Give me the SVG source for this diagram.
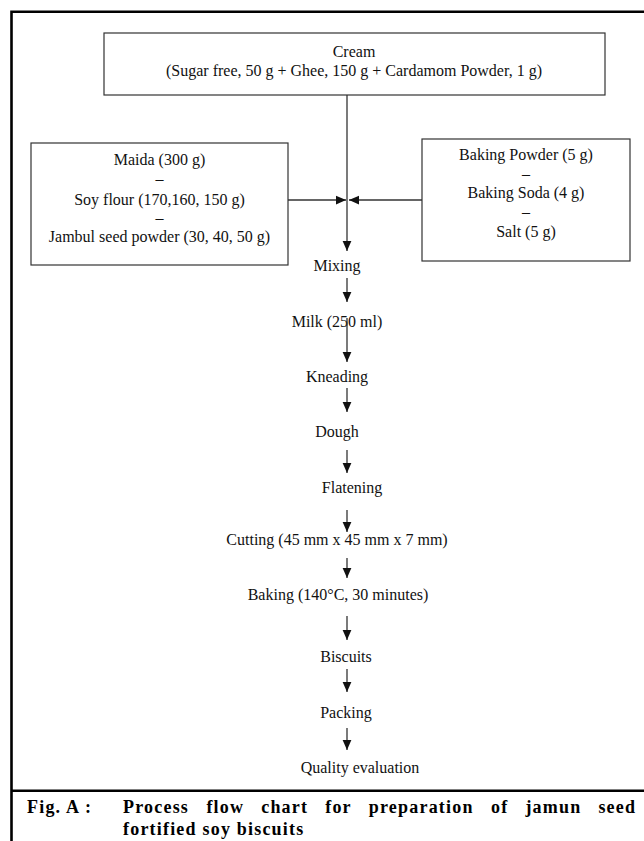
<svg xmlns="http://www.w3.org/2000/svg" width="644" height="841" viewBox="0 0 644 841">
<style>
  .t { font-family: "Liberation Serif", "Times New Roman", serif; font-size: 16px; fill: #111; text-anchor: middle; }
  .box { fill: none; stroke: #333; stroke-width: 1.2; }
  .frame { fill: none; stroke: #000; stroke-width: 2.6; }
  .cap { font-family: "Liberation Serif", "Times New Roman", serif; font-size: 18px; font-weight: bold; fill: #000; letter-spacing: 1.2px; }
  .conn path { fill: none; stroke: #333; stroke-width: 1.3; marker-end: url(#ah); }
</style>
<defs>
  <marker id="ah" markerUnits="userSpaceOnUse" markerWidth="10" markerHeight="10" viewBox="0 0 8 8" refX="8" refY="4" orient="auto">
    <path d="M0,0.5 L8,4 L0,7.5 Z" fill="#111"/>
  </marker>
</defs>
<rect width="644" height="841" fill="#fff"/>
<path class="frame" d="M11.5,845 V11.7 H650"/>
<path class="frame" d="M11.5,790.7 H650"/>

<g id="cream">
  <rect class="box" x="104" y="33" width="501" height="62"/>
  <text class="t" x="354" y="57">Cream</text>
  <text class="t" x="354" y="76">(Sugar free, 50 g + Ghee, 150 g + Cardamom Powder, 1 g)</text>
</g>
<g id="flours">
  <rect class="box" x="31" y="143" width="257" height="122"/>
  <text class="t" x="159.5" y="165">Maida (300 g)</text>
  <text class="t" x="159.5" y="184">–</text>
  <text class="t" x="159.5" y="205">Soy flour (170,160, 150 g)</text>
  <text class="t" x="159.5" y="223">–</text>
  <text class="t" x="159.5" y="242">Jambul seed powder (30, 40, 50 g)</text>
</g>
<g id="leavening">
  <rect class="box" x="422" y="139" width="208" height="122"/>
  <text class="t" x="526" y="160">Baking Powder (5 g)</text>
  <text class="t" x="526" y="179">–</text>
  <text class="t" x="526" y="198">Baking Soda (4 g)</text>
  <text class="t" x="526" y="217">–</text>
  <text class="t" x="526" y="237">Salt (5 g)</text>
</g>
<g id="mixing"><text class="t" x="337" y="271">Mixing</text></g>
<g id="milk"><text class="t" x="337" y="327">Milk (250 ml)</text></g>
<g id="kneading"><text class="t" x="337" y="382">Kneading</text></g>
<g id="dough"><text class="t" x="337" y="437">Dough</text></g>
<g id="flatening"><text class="t" x="352" y="493">Flatening</text></g>
<g id="cutting"><text class="t" x="337" y="545">Cutting (45 mm x 45 mm x 7 mm)</text></g>
<g id="baking"><text class="t" x="338" y="600">Baking (140°C, 30 minutes)</text></g>
<g id="biscuits"><text class="t" x="346" y="662">Biscuits</text></g>
<g id="packing"><text class="t" x="346" y="718">Packing</text></g>
<g id="quality"><text class="t" x="360" y="773">Quality evaluation</text></g>

<g id="connectors" class="conn">
  <path d="M347,95 V251"/>
  <path d="M288,200 H346"/>
  <path d="M422,200 H349"/>
  <path d="M347,278 V302"/>
  <path d="M347,318 V362"/>
  <path d="M347,388 V412"/>
  <path d="M347,450 V473"/>
  <path d="M347,510 V532"/>
  <path d="M347,558 V578"/>
  <path d="M347,616 V640"/>
  <path d="M347,669 V692"/>
  <path d="M347,728 V750"/>
</g>

<g id="caption">
  <text class="cap" x="27" y="813">Fig. A :</text>
  <text class="cap" y="813"><tspan x="123">Process</tspan><tspan x="206.4">flow</tspan><tspan x="261.2">chart</tspan><tspan x="325.2">for</tspan><tspan x="368.8">preparation</tspan><tspan x="491">of</tspan><tspan x="525.4">jamun</tspan><tspan x="598.4">seed</tspan></text>
  <text class="cap" x="123" y="835">fortified soy biscuits</text>
</g>
</svg>
